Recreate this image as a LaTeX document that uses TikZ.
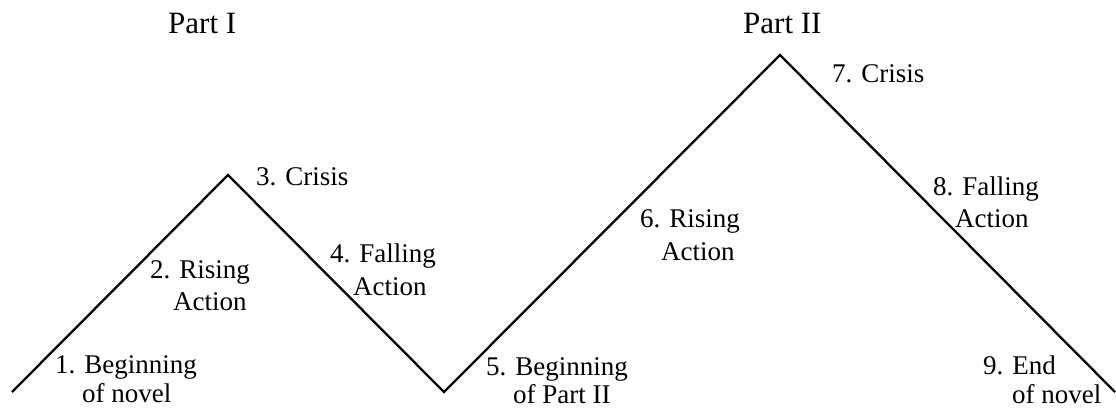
\documentclass[tikz,border=0pt]{standalone}
\usepackage{fontspec}
\setmainfont{Liberation Serif}
\begin{document}
\begin{tikzpicture}[x=1pt,y=-1pt,
  lbl/.style={font=\fontsize{27}{32}\selectfont, align=left, anchor=base west, inner sep=0pt},
  parttitle/.style={font=\fontsize{31}{36}\selectfont, anchor=base west, inner sep=0pt},
  plotline/.style={line width=2.3pt, line join=miter}]
\useasboundingbox (0,0) rectangle (1116,410);
\coordinate (p0) at (12,392);
\coordinate (p1) at (228,175);
\coordinate (p2) at (444,392);
\coordinate (p3) at (780,55);
\coordinate (p4) at (1115,392);
\draw[plotline] (p0) -- (p1) -- (p2) -- (p3) -- (p4);
\node[parttitle] (partI) at (168,33) {Part I};
\node[parttitle] (partII) at (743,33) {Part II};
\node[lbl] (l1) at (55,402) {1. Beginning\\[-3pt]\hspace*{27pt}of novel};
\node[lbl] (l2) at (150,310) {2. Rising\\\hspace*{23pt}Action};
\node[lbl] (l3) at (256,185) {3. Crisis};
\node[lbl] (l4) at (330,295) {4. Falling\\[1pt]\hspace*{23pt}Action};
\node[lbl] (l5) at (486,403) {5. Beginning\\[-4pt]\hspace*{27pt}of Part II};
\node[lbl] (l6) at (640,260) {6. Rising\\[1pt]\hspace*{21pt}Action};
\node[lbl] (l7) at (832,82) {7. Crisis};
\node[lbl] (l8) at (933,227) {8. Falling\\\hspace*{22pt}Action};
\node[lbl] (l9) at (983,403) {9. End\\[-3pt]\hspace*{29pt}of novel};
\end{tikzpicture}
\end{document}
